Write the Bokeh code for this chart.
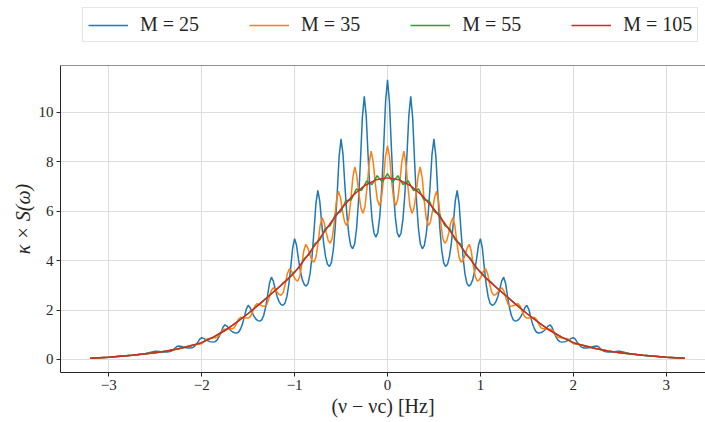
from bokeh.plotting import figure
from bokeh.layouts import column
from bokeh.models import (Legend, LegendItem, FixedTicker, Range1d, Span,
                          CustomJSTickFormatter)
from bokeh.embed import file_html
from bokeh.resources import INLINE

# ---------------- data ----------------
x_ticks = [-3, -2, -1, 0, 1, 2, 3]
x_tick_labels = ["−3", "−2", "−1", "0", "1", "2", "3"]
y_ticks = [0, 2, 4, 6, 8, 10]
series_labels = ["M = 25", "M = 35", "M = 55", "M = 105"]

# M = 25 : sampled every 1/48 Hz for |nu| <= 2.5 (period 0.25 Hz), sparse tails
nu_25 = ([-3.2, -3.1, -3.0, -2.875, -2.75, -2.625]
         + [k / 48 for k in range(-120, 121)]
         + [2.625, 2.75, 2.875, 3.0, 3.1, 3.2])
s_25_left_tail = [0.05, 0.07, 0.09, 0.13, 0.17, 0.22]
s_25_neg = [0.33, 0.33, 0.32, 0.31, 0.30, 0.30,
            0.30, 0.31, 0.33, 0.37, 0.44, 0.51,
            0.54, 0.53, 0.51, 0.48, 0.47, 0.46,
            0.46, 0.47, 0.51, 0.59, 0.70, 0.82,
            0.88, 0.85, 0.80, 0.76, 0.72, 0.71,
            0.70, 0.72, 0.79, 0.92, 1.10, 1.30,
            1.40, 1.35, 1.26, 1.17, 1.11, 1.08,
            1.07, 1.10, 1.22, 1.42, 1.71, 2.03,
            2.19, 2.10, 1.91, 1.75, 1.63, 1.57,
            1.55, 1.60, 1.78, 2.10, 2.56, 3.08,
            3.33, 3.17, 2.84, 2.54, 2.34, 2.22,
            2.19, 2.27, 2.54, 3.03, 3.73, 4.51,
            4.89, 4.62, 4.06, 3.57, 3.22, 3.03,
            2.97, 3.09, 3.47, 4.17, 5.18, 6.30,
            6.84, 6.41, 5.52, 4.71, 4.16, 3.85,
            3.76, 3.92, 4.43, 5.36, 6.71, 8.21,
            8.93, 8.31, 7.02, 5.86, 5.06, 4.61,
            4.48, 4.67, 5.28, 6.39, 8.00, 9.79,
            10.65, 9.85, 8.20, 6.72, 5.69, 5.12,
            4.95, 5.14, 5.78, 6.92, 8.58, 10.43]
s_25_pos = [11.32,
            10.43, 8.58, 6.92, 5.78, 5.14, 4.95,
            5.12, 5.69, 6.72, 8.20, 9.85, 10.65,
            9.79, 8.00, 6.39, 5.28, 4.67, 4.48,
            4.61, 5.06, 5.86, 7.02, 8.31, 8.93,
            8.21, 6.71, 5.36, 4.43, 3.92, 3.76,
            3.85, 4.16, 4.71, 5.52, 6.41, 6.84,
            6.30, 5.18, 4.17, 3.47, 3.09, 2.97,
            3.03, 3.22, 3.57, 4.06, 4.62, 4.89,
            4.51, 3.73, 3.03, 2.54, 2.27, 2.19,
            2.22, 2.34, 2.54, 2.84, 3.17, 3.33,
            3.08, 2.56, 2.10, 1.78, 1.60, 1.55,
            1.57, 1.63, 1.75, 1.91, 2.10, 2.19,
            2.03, 1.71, 1.42, 1.22, 1.10, 1.07,
            1.08, 1.11, 1.17, 1.26, 1.35, 1.40,
            1.30, 1.10, 0.92, 0.79, 0.72, 0.70,
            0.71, 0.72, 0.76, 0.80, 0.85, 0.88,
            0.82, 0.70, 0.59, 0.51, 0.47, 0.46,
            0.46, 0.47, 0.48, 0.51, 0.53, 0.54,
            0.51, 0.44, 0.37, 0.33, 0.31, 0.30,
            0.30, 0.30, 0.31, 0.32, 0.33, 0.33]
s_25_right_tail = [0.22, 0.17, 0.13, 0.09, 0.07, 0.05]
s_25 = s_25_left_tail + s_25_neg + s_25_pos + s_25_right_tail

# M = 35 : sampled every 0.022 Hz for |nu| <= 2.112 (period 0.176 Hz)
nu_35 = ([-3.2, -3.1, -3.0, -2.875, -2.75, -2.625, -2.5, -2.375, -2.25]
         + [round(k * 0.022, 4) for k in range(-96, 97)]
         + [2.25, 2.375, 2.5, 2.625, 2.75, 2.875, 3.0, 3.1, 3.2])
s_35_left_tail = [0.05, 0.07, 0.09, 0.13, 0.17, 0.22, 0.27, 0.34, 0.43]
s_35_neg = [0.57, 0.58, 0.59, 0.61, 0.61, 0.64, 0.71, 0.80,
            0.84, 0.85, 0.86, 0.88, 0.88, 0.92, 1.02, 1.16,
            1.22, 1.22, 1.23, 1.24, 1.24, 1.29, 1.43, 1.61,
            1.70, 1.70, 1.69, 1.68, 1.68, 1.74, 1.92, 2.14,
            2.25, 2.23, 2.19, 2.16, 2.15, 2.23, 2.47, 2.76,
            2.90, 2.84, 2.73, 2.63, 2.60, 2.72, 3.05, 3.47,
            3.67, 3.58, 3.38, 3.23, 3.17, 3.33, 3.80, 4.38,
            4.66, 4.52, 4.24, 4.02, 3.94, 4.14, 4.70, 5.40,
            5.74, 5.54, 5.14, 4.81, 4.70, 4.93, 5.59, 6.41,
            6.81, 6.55, 6.00, 5.57, 5.42, 5.68, 6.42, 7.34,
            7.79, 7.43, 6.71, 6.13, 5.92, 6.20, 6.97, 7.95,
            8.43, 8.01, 7.15, 6.47, 6.23, 6.50, 7.25, 8.20]
s_35_pos = [8.66,
            8.20, 7.25, 6.50, 6.23, 6.47, 7.15, 8.01, 8.43,
            7.95, 6.97, 6.20, 5.92, 6.13, 6.71, 7.43, 7.79,
            7.34, 6.42, 5.68, 5.42, 5.57, 6.00, 6.55, 6.81,
            6.41, 5.59, 4.93, 4.70, 4.81, 5.14, 5.54, 5.74,
            5.40, 4.70, 4.14, 3.94, 4.02, 4.24, 4.52, 4.66,
            4.38, 3.80, 3.33, 3.17, 3.23, 3.38, 3.58, 3.67,
            3.47, 3.05, 2.72, 2.60, 2.63, 2.73, 2.84, 2.90,
            2.76, 2.47, 2.23, 2.15, 2.16, 2.19, 2.23, 2.25,
            2.14, 1.92, 1.74, 1.68, 1.68, 1.69, 1.70, 1.70,
            1.61, 1.43, 1.29, 1.24, 1.24, 1.23, 1.22, 1.22,
            1.16, 1.02, 0.92, 0.88, 0.88, 0.86, 0.85, 0.84,
            0.80, 0.71, 0.64, 0.61, 0.61, 0.59, 0.58, 0.57]
s_35_right_tail = [0.43, 0.34, 0.27, 0.22, 0.17, 0.13, 0.09, 0.07, 0.05]
s_35 = s_35_left_tail + s_35_neg + s_35_pos + s_35_right_tail

# M = 55 : sampled every 0.028 Hz for |nu| <= 1.232
nu_55 = ([-3.2, -3.1, -3.0, -2.875, -2.75, -2.625, -2.5, -2.375, -2.25, -2.125,
          -2.0, -1.875, -1.75, -1.625, -1.5, -1.375]
         + [round(k * 0.028, 3) for k in range(-44, 45)]
         + [1.375, 1.5, 1.625, 1.75, 1.875, 2.0, 2.125, 2.25, 2.375, 2.5, 2.625,
            2.75, 2.875, 3.0, 3.1, 3.2])
s_55 = [0.05, 0.07, 0.09, 0.13, 0.17, 0.22, 0.27, 0.34, 0.43, 0.54, 0.68, 0.90,
        1.17, 1.50, 1.86, 2.25,
        2.72, 2.81, 2.89, 2.99, 3.11, 3.19, 3.26, 3.39, 3.53, 3.62, 3.71, 3.89,
        4.08, 4.17, 4.26, 4.46, 4.68, 4.75, 4.85, 5.06, 5.29, 5.36, 5.42, 5.64,
        5.88, 5.93, 5.98, 6.20, 6.43, 6.44, 6.46, 6.67, 6.90, 6.86, 6.84, 7.02,
        7.23, 7.15, 7.08, 7.25, 7.44, 7.31, 7.19, 7.35,
        7.52,
        7.35, 7.19, 7.31, 7.44, 7.25, 7.08, 7.15, 7.23, 7.02, 6.84, 6.86, 6.90,
        6.67, 6.46, 6.44, 6.43, 6.20, 5.98, 5.93, 5.88, 5.64, 5.42, 5.36, 5.29,
        5.06, 4.85, 4.75, 4.68, 4.46, 4.26, 4.17, 4.08, 3.89, 3.71, 3.62, 3.53,
        3.39, 3.26, 3.19, 3.11, 2.99, 2.89, 2.81, 2.72,
        2.25, 1.86, 1.50, 1.17, 0.90, 0.68, 0.54, 0.43, 0.34, 0.27, 0.22, 0.17,
        0.13, 0.09, 0.07, 0.05]

# M = 105 : smooth envelope
nu_105 = [-3.2, -3.1, -3.0, -2.875, -2.75, -2.625, -2.5, -2.375, -2.25, -2.125,
          -2.0, -1.875, -1.75, -1.625, -1.5, -1.375, -1.25, -1.125, -1.0, -0.875,
          -0.75, -0.625, -0.5, -0.375, -0.25, -0.125, 0.0, 0.125, 0.25, 0.375,
          0.5, 0.625, 0.75, 0.875, 1.0, 1.125, 1.25, 1.375, 1.5, 1.625, 1.75,
          1.875, 2.0, 2.125, 2.25, 2.375, 2.5, 2.625, 2.75, 2.875, 3.0, 3.1, 3.2]
s_105 = [0.05, 0.07, 0.09, 0.13, 0.17, 0.22, 0.27, 0.34, 0.43, 0.54,
         0.68, 0.90, 1.17, 1.50, 1.86, 2.25, 2.66, 3.07, 3.52, 4.13,
         4.79, 5.46, 6.09, 6.63, 7.03, 7.27, 7.35, 7.27, 7.03, 6.63,
         6.09, 5.46, 4.79, 4.13, 3.52, 3.07, 2.66, 2.25, 1.86, 1.50, 1.17,
         0.90, 0.68, 0.54, 0.43, 0.34, 0.27, 0.22, 0.17, 0.13, 0.09, 0.07, 0.05]

colors = ["#1f77b4", "#ff7f0e", "#2ca02c", "#d62728"]

# ---------------- style ----------------
FONT = "Liberation Serif"
TXT = "#262626"

# ---------------- legend strip (top) ----------------
leg_fig = figure(width=705, height=64, output_backend="svg", toolbar_location=None,
                 x_axis_type=None, y_axis_type=None,
                 x_range=Range1d(0, 1), y_range=Range1d(0, 1),
                 min_border=0)
leg_fig.outline_line_color = None
leg_fig.grid.visible = False
# legend-only proxies (a single NaN point, nothing visible in the strip)
leg_renderers = [leg_fig.line([0.5], [float("nan")], line_color=c, line_width=1.5)
                 for c in colors]
items = [LegendItem(label=lab, renderers=[r]) for lab, r in zip(series_labels, leg_renderers)]
legend = Legend(items=items, orientation="horizontal", location=(22, 22),
                glyph_width=40, glyph_height=20, label_standoff=12, spacing=50,
                padding=5, margin=0,
                label_text_font=FONT, label_text_font_size="20px",
                label_text_color=TXT, label_height=20,
                border_line_color="#cccccc", border_line_width=1,
                background_fill_color="white", background_fill_alpha=1.0)
leg_fig.add_layout(legend, "center")

# ---------------- main plot ----------------
p = figure(width=705, height=358, output_backend="svg", toolbar_location=None,
           x_range=Range1d(-3.52, 3.423), y_range=Range1d(-0.53, 11.9),
           min_border_left=60, min_border_right=0, min_border_top=1,
           min_border_bottom=50)
p.outline_line_color = None
p.background_fill_color = "white"
p.border_fill_color = "white"

for nu, s, c in zip([nu_25, nu_35, nu_55, nu_105], [s_25, s_35, s_55, s_105], colors):
    p.line(nu, s, line_color=c, line_width=1.5)

p.xaxis.ticker = FixedTicker(ticks=x_ticks)
p.yaxis.ticker = FixedTicker(ticks=y_ticks)
p.xaxis.formatter = CustomJSTickFormatter(
    args=dict(tick_vals=x_ticks, tick_text=x_tick_labels),
    code="const i = tick_vals.indexOf(tick); return i >= 0 ? tick_text[i] : String(tick);")
for ax in (p.xaxis, p.yaxis):
    ax.axis_line_color = TXT
    ax.axis_line_width = 1
    ax.major_tick_line_color = TXT
    ax.major_tick_out = 4
    ax.major_tick_in = 0
    ax.minor_tick_line_color = None
    ax.major_label_text_font = FONT
    ax.major_label_text_font_size = "15px"
    ax.major_label_text_color = TXT
    ax.axis_label_text_font = FONT
    ax.axis_label_text_font_size = "20px"
    ax.axis_label_text_color = TXT
    ax.axis_label_text_font_style = "normal"
    ax.major_label_standoff = 3

p.xaxis.axis_label = "(ν − νc) [Hz]"
p.yaxis.axis_label = "κ × S(ω)"
p.yaxis.axis_label_text_font_style = "italic"
p.xaxis.axis_label_standoff = 2
p.yaxis.axis_label_standoff = 2
p.yaxis.major_label_orientation = "horizontal"

p.xgrid.ticker = FixedTicker(ticks=x_ticks)
p.ygrid.ticker = FixedTicker(ticks=y_ticks)
for g in (p.xgrid, p.ygrid):
    g.grid_line_color = "#dddddd"
    g.grid_line_width = 1

# top frame line
p.add_layout(Span(location=11.9, dimension="width", line_color=TXT, line_width=1))

layout = column(leg_fig, p, spacing=0)
open("out.html", "w").write(file_html(layout, INLINE))
